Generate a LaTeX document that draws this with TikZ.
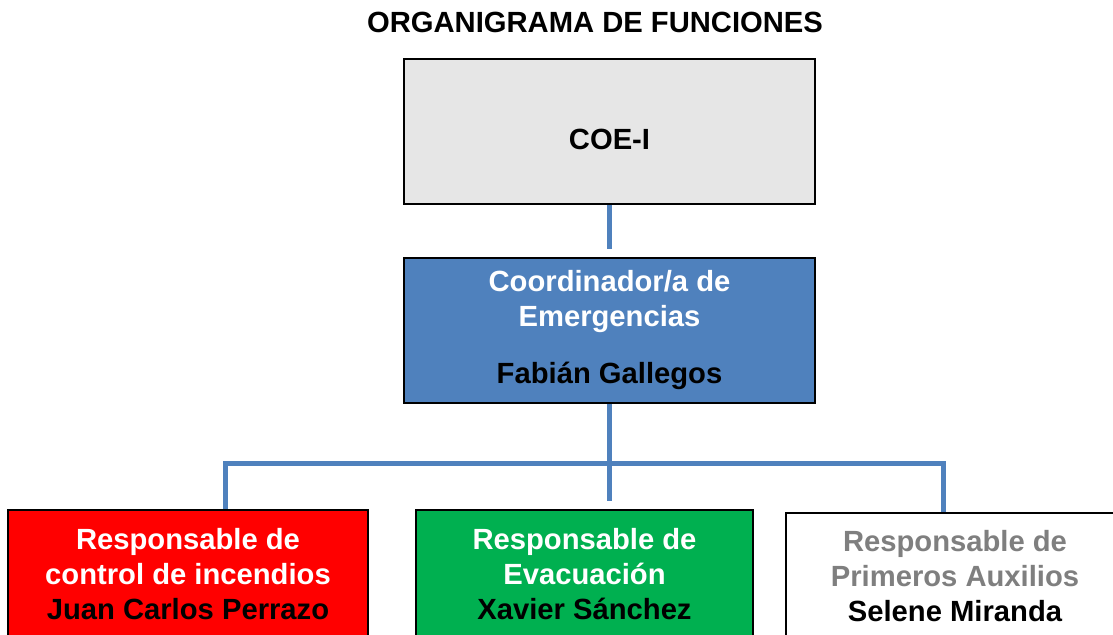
\documentclass[tikz,border=0pt]{standalone}
\usepackage{fontspec}
\setmainfont{Liberation Sans}
\definecolor{cajaGris}{HTML}{E6E6E6}
\definecolor{cajaAzul}{HTML}{4F81BD}
\definecolor{cajaRoja}{HTML}{FF0000}
\definecolor{cajaVerde}{HTML}{00B050}
\definecolor{textoGris}{HTML}{7F7F7F}
\begin{document}
\begin{tikzpicture}[x=0.5pt,y=-0.5pt,
	caja/.style={draw=black,line width=1pt,align=center,inner sep=0pt,
		font=\fontsize{14.6}{17.5}\selectfont\bfseries},
	conector/.style={draw=cajaAzul,line width=2.5pt}]
	\useasboundingbox (0,0) rectangle (1113,634);
	\clip (0,0) rectangle (1113,634);
	\node [font=\fontsize{14.6}{17}\selectfont\bfseries] (titulo) at (595,22) {ORGANIGRAMA DE FUNCIONES};
	\node [caja,fill=cajaGris,minimum width=205.5pt,minimum height=72.5pt] (coe) at (609.5,131.5)
		{\raisebox{-4pt}[\height][\depth]{COE-I}};
	\node [caja,fill=cajaAzul,minimum width=205.5pt,minimum height=72.5pt] (coord) at (609.5,330.5)
		{\textcolor{white}{Coordinador/a de}\\\textcolor{white}{Emergencias}\\[11pt]Fabián Gallegos};
	\node [caja,fill=cajaRoja,minimum width=180pt,minimum height=64pt] (incendios) at (188,574)
		{\textcolor{white}{Responsable de}\\\textcolor{white}{control de incendios}\\Juan Carlos Perrazo};
	\node [caja,fill=cajaVerde,minimum width=168.5pt,minimum height=64pt] (evacuacion) at (584.5,574)
		{\textcolor{white}{Responsable de}\\\textcolor{white}{Evacuación}\\Xavier Sánchez};
	\node [caja,fill=white,minimum width=169pt,minimum height=63pt] (auxilios) at (955,576)
		{\textcolor{textoGris}{Responsable de}\\\textcolor{textoGris}{Primeros Auxilios}\\Selene Miranda};
	% lineas de mando
	\coordinate (barraIzq) at (225,463);
	\coordinate (barraDer) at (943,463);
	\draw [conector,shorten >=4pt] (coe.south) -- (coord.north);
	\draw [conector,shorten >=4pt] (coord.south) -- (coord.south |- evacuacion.north);
	\draw [conector] (incendios.north -| barraIzq) -- (barraIzq) -- (barraDer) -- (auxilios.north -| barraDer);
\end{tikzpicture}
\end{document}
